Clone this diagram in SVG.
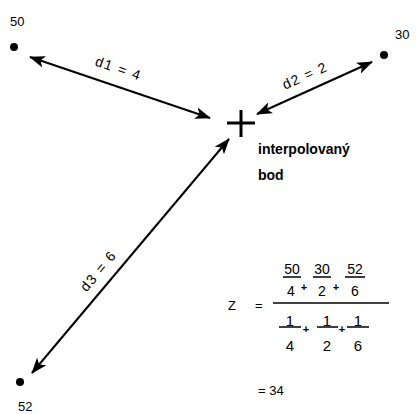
<svg xmlns="http://www.w3.org/2000/svg" width="420" height="414" viewBox="0 0 420 414">
<style>
text{font-family:"Liberation Sans",Arial,sans-serif;fill:#000}
.lbl{font-size:13px}
.dl{font-size:14px;letter-spacing:1.5px;text-anchor:middle}
.b{font-size:14px;font-weight:bold}
.f{font-size:14px;text-anchor:middle}
.g{font-size:15px;text-anchor:middle}
.p{font-size:11px;text-anchor:middle;font-weight:bold}
.conn{stroke:#000;stroke-width:2;fill:none}
.bar{stroke:#000;stroke-width:1.5}
</style>
<defs>
<marker id="ah" viewBox="0 0 16 12" refX="15" refY="6" markerWidth="16" markerHeight="12" markerUnits="userSpaceOnUse" orient="auto-start-reverse">
<path d="M0,0 L16,6 L0,12 L4,6 Z" fill="#000"/>
</marker>
</defs>
<rect width="420" height="414" fill="#fff"/>
<g id="connectors">
<line class="conn" x1="30" y1="57" x2="210" y2="118" marker-start="url(#ah)" marker-end="url(#ah)"/>
<line class="conn" x1="257" y1="114" x2="372" y2="62" marker-start="url(#ah)" marker-end="url(#ah)"/>
<line class="conn" x1="229" y1="139" x2="32" y2="373" marker-start="url(#ah)" marker-end="url(#ah)"/>
<text class="dl" transform="translate(117,73) rotate(19)">d1 = 4</text>
<text class="dl" transform="translate(307,80) rotate(-24)">d2 = 2</text>
<text class="dl" transform="translate(102,274) rotate(-50)">d3 = 6</text>
</g>
<g id="p50">
<text class="lbl" x="10" y="26">50</text>
<circle cx="14" cy="47" r="4"/>
</g>
<g id="p30">
<text class="lbl" x="395" y="39">30</text>
<circle cx="384" cy="55" r="4"/>
</g>
<g id="p52">
<text class="lbl" x="18" y="411">52</text>
<circle cx="20" cy="382" r="4"/>
</g>
<g id="bod">
<path d="M227,123 H255 M241,110 V137" stroke="#000" stroke-width="3"/>
<text class="b" x="258" y="154">interpolovaný</text>
<text class="b" x="258" y="180">bod</text>
</g>
<g id="formula">
<text class="lbl" x="228" y="310">Z</text>
<text class="lbl" x="255" y="310">=</text>
<line class="bar" x1="273" y1="303" x2="389" y2="303" stroke-width="2"/>
<text class="f" x="292" y="274">50</text>
<line class="bar" x1="283" y1="277" x2="301" y2="277"/>
<text class="f" x="291" y="296">4</text>
<text class="p" x="304" y="291">+</text>
<text class="f" x="322" y="274">30</text>
<line class="bar" x1="313" y1="277" x2="331" y2="277"/>
<text class="f" x="322" y="296">2</text>
<text class="p" x="336" y="291">+</text>
<text class="f" x="355" y="274">52</text>
<line class="bar" x1="345" y1="277" x2="365" y2="277"/>
<text class="f" x="355" y="296">6</text>
<text class="g" x="290" y="326">1</text>
<line class="bar" x1="279" y1="327" x2="301" y2="327"/>
<text class="g" x="290" y="351">4</text>
<text class="p" x="306" y="333">+</text>
<text class="g" x="327" y="326">1</text>
<line class="bar" x1="317" y1="327" x2="338" y2="327"/>
<text class="g" x="327" y="351">2</text>
<text class="p" x="342" y="333">+</text>
<text class="g" x="358" y="326">1</text>
<line class="bar" x1="347" y1="327" x2="369" y2="327"/>
<text class="g" x="358" y="351">6</text>
<text class="lbl" x="258" y="395">= 34</text>
</g>
</svg>
